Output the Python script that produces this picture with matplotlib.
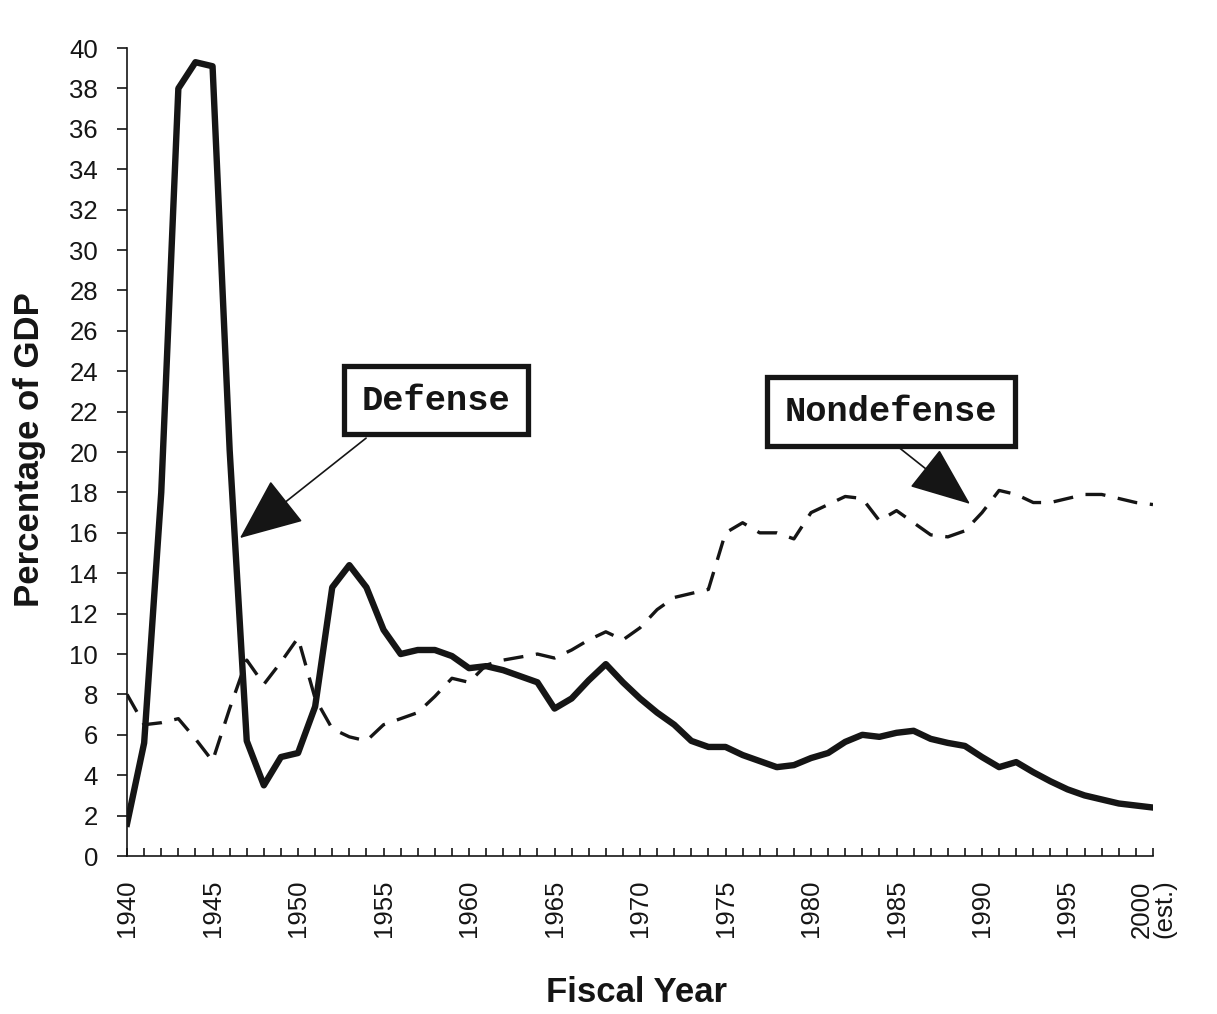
import matplotlib
matplotlib.use("Agg")
import matplotlib.pyplot as plt
from matplotlib.patches import ArrowStyle

years = list(range(1940, 2001))

defense = [1.6, 5.6, 18.0, 38.0, 39.3, 39.1, 20.1, 5.7, 3.5, 4.9,
           5.1, 7.4, 13.3, 14.4, 13.3, 11.2, 10.0, 10.2, 10.2, 9.9,
           9.3, 9.4, 9.2, 8.9, 8.6, 7.3, 7.8, 8.7, 9.5, 8.6,
           7.8, 7.1, 6.5, 5.7, 5.4, 5.4, 5.0, 4.7, 4.4, 4.5,
           4.85, 5.1, 5.65, 6.0, 5.9, 6.1, 6.2, 5.8, 5.6, 5.45,
           4.9, 4.4, 4.65, 4.15, 3.7, 3.3, 3.0, 2.8, 2.6, 2.5,
           2.4]

nondefense = [8.0, 6.5, 6.6, 6.8, 5.8, 4.7, 7.3, 9.7, 8.5, 9.6,
              10.8, 7.8, 6.3, 5.9, 5.7, 6.5, 6.8, 7.1, 7.9, 8.8,
              8.6, 9.45, 9.7, 9.85, 10.0, 9.8, 10.2, 10.7, 11.1, 10.7,
              11.3, 12.2, 12.8, 13.0, 13.2, 16.0, 16.5, 16.0, 16.0, 15.7,
              17.0, 17.4, 17.8, 17.7, 16.6, 17.1, 16.5, 15.9, 15.8, 16.1,
              17.0, 18.1, 17.9, 17.5, 17.5, 17.7, 17.9, 17.9, 17.7, 17.5,
              17.4]

ytick_values = list(range(0, 41, 2))
xtick_values = list(range(1940, 2001, 5))
xtick_labels = [str(y) for y in xtick_values[:-1]] + ["2000\n(est.)"]

ink = "#151515"
sans = ["Liberation Sans", "DejaVu Sans"]
mono = ["Liberation Mono", "DejaVu Sans Mono"]

fig = plt.figure(figsize=(12.17, 10.14), dpi=100)
fig.patch.set_facecolor("white")
ax = fig.add_axes([0.1044, 0.1558, 0.8430, 0.7968])

ax.plot(years, defense, color=ink, lw=4.6, solid_joinstyle="round", zorder=3)
ax.plot(years, nondefense, color=ink, lw=2.4, linestyle=(0, (6, 3.8)), zorder=3)

ax.set_xlim(1940, 2000)
ax.set_ylim(0, 40)
for s in ["top", "right"]:
    ax.spines[s].set_visible(False)
for s in ["left", "bottom"]:
    ax.spines[s].set_linewidth(1.2)
    ax.spines[s].set_color(ink)

ax.set_yticks(ytick_values)
ax.set_yticklabels([str(v) for v in ytick_values], fontsize=18.5, family=sans, color=ink)
ax.tick_params(axis="y", direction="out", length=7, width=1.2, pad=14, colors=ink)

ax.set_xticks(xtick_values)
ax.set_xticklabels(xtick_labels, rotation=90, fontsize=18.5, family=sans, color=ink,
                   va="top", ha="center", linespacing=0.95)
ax.set_xticks(years, minor=True)
ax.tick_params(axis="x", which="both", direction="in", length=6, width=1.2, pad=17, colors=ink)

fig.text(30 / 1217, 1 - 450 / 1014, "Percentage of GDP", rotation=90, fontsize=25,
         fontweight="bold", family=sans, ha="center", va="center", color=ink)
fig.text(637 / 1217, 1 - 992 / 1014, "Fiscal Year", fontsize=25,
         fontweight="bold", family=sans, ha="center", va="center", color=ink)

box = dict(boxstyle="square,pad=0.5", fc="white", ec=ink, lw=3.8)
ax.text(1958.07, 22.57, "Defense", fontsize=25.5, fontweight="bold", family=mono,
        ha="center", va="center", bbox=box, zorder=5, color=ink)
ax.text(1984.68, 22.0, "Nondefense", fontsize=25.5, fontweight="bold", family=mono,
        ha="center", va="center", bbox=box, zorder=5, color=ink)

arrow = dict(arrowstyle=ArrowStyle("-|>", head_length=2.7, head_width=1.15),
             mutation_scale=15, lw=1.2, fc=ink, ec=ink, shrinkA=0, shrinkB=0)
ax.annotate("", xy=(1946.6, 15.74), xytext=(1953.98, 20.69), arrowprops=arrow, zorder=4)
arrow2 = dict(arrowstyle=ArrowStyle("-|>", head_length=2.6, head_width=1.05),
              mutation_scale=15, lw=1.2, fc=ink, ec=ink, shrinkA=0, shrinkB=0)
ax.annotate("", xy=(1989.3, 17.43), xytext=(1985.03, 20.3), arrowprops=arrow2, zorder=4)

fig.savefig("out.png", dpi=100, facecolor="white")
